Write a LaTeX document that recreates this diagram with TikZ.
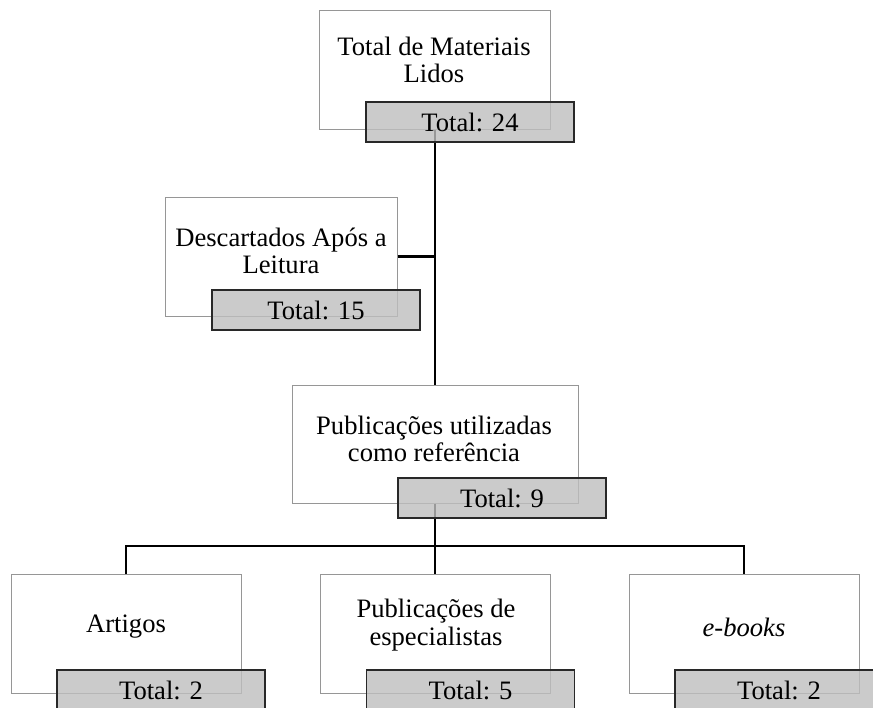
\documentclass[tikz,border=0pt]{standalone}
\usepackage{fontspec}
\setmainfont{Liberation Serif}
\usetikzlibrary{positioning, calc}
\definecolor{boxline}{RGB}{150,150,150}
\definecolor{totline}{RGB}{40,40,40}
\definecolor{totfill}{RGB}{190,190,190}
\tikzset{
  mainbox/.style={rectangle, draw=boxline, fill=white,
    minimum width=231pt, minimum height=119pt, inner sep=0pt, line width=1pt},
  boxtext/.style={align=center, inner sep=0pt,
    font=\fontsize{26.6}{27.5}\selectfont},
  totalbox/.style={rectangle, draw=totline, fill=totfill, fill opacity=0.8,
    text opacity=1, minimum width=208pt, minimum height=40pt, inner sep=0pt,
    line width=1.3pt, font=\fontsize{26.6}{30}\selectfont},
  link/.style={line width=2.7pt, color=black}
}

\begin{document}
\begin{tikzpicture}[x=1pt, y=-1pt]
  \clip (0,0) rectangle (873,707);
  \useasboundingbox (0,0) rectangle (873,707);

  % White boxes
  \node[mainbox] (top) at (435, 69.5) {};
  \node[mainbox, minimum width=232pt] (desc) at (281, 256.5) {};
  \node[mainbox, minimum width=286pt, minimum height=118pt] (pub) at (435, 444) {};
  \node[mainbox, minimum width=230pt] (art) at (126, 633.5) {};
  \node[mainbox, minimum width=230pt] (spec) at (435, 633.5) {};
  \node[mainbox, minimum width=230pt] (ebk) at (744, 633.5) {};

  % Connectors
  \coordinate (bus) at (435, 546);
  \draw[link] (top.south) -- (pub.north);
  \draw[link] (desc.east) -- (desc.east -| top.south);
  \draw[link] (pub.south) -- (spec.north);
  \draw[link] (art.north) -- (art.north |- bus) -- (ebk.north |- bus) -- (ebk.north);

  % Box texts
  \node[boxtext] (toptext) at (434, 60) {Total de Materiais\\Lidos};
  \node[boxtext] (desctext) at (281, 251) {Descartados Após a\\Leitura};
  \node[boxtext] (pubtext) at (434, 439) {Publicações utilizadas\\como referência};
  \node[boxtext] (arttext) at (126, 627) {Artigos};
  \node[boxtext] (spectext) at (436, 625) {Publicações de\\especialistas};
  \node[boxtext] (ebktext) at (744, 627) {\textit{e-books}};

  % Totals
  \node[totalbox] (toptot) at (470, 122) {Total: 24};
  \node[totalbox] (desctot) at (316, 310) {Total: 15};
  \node[totalbox] (pubtot) at (502, 498) {Total: 9};
  \node[totalbox] (arttot) at (161, 690) {Total: 2};
  \node[totalbox] (spectot) at (470.5, 690) {Total: 5};
  \node[totalbox] (ebktot) at (779, 690) {Total: 2};
\end{tikzpicture}
\end{document}
